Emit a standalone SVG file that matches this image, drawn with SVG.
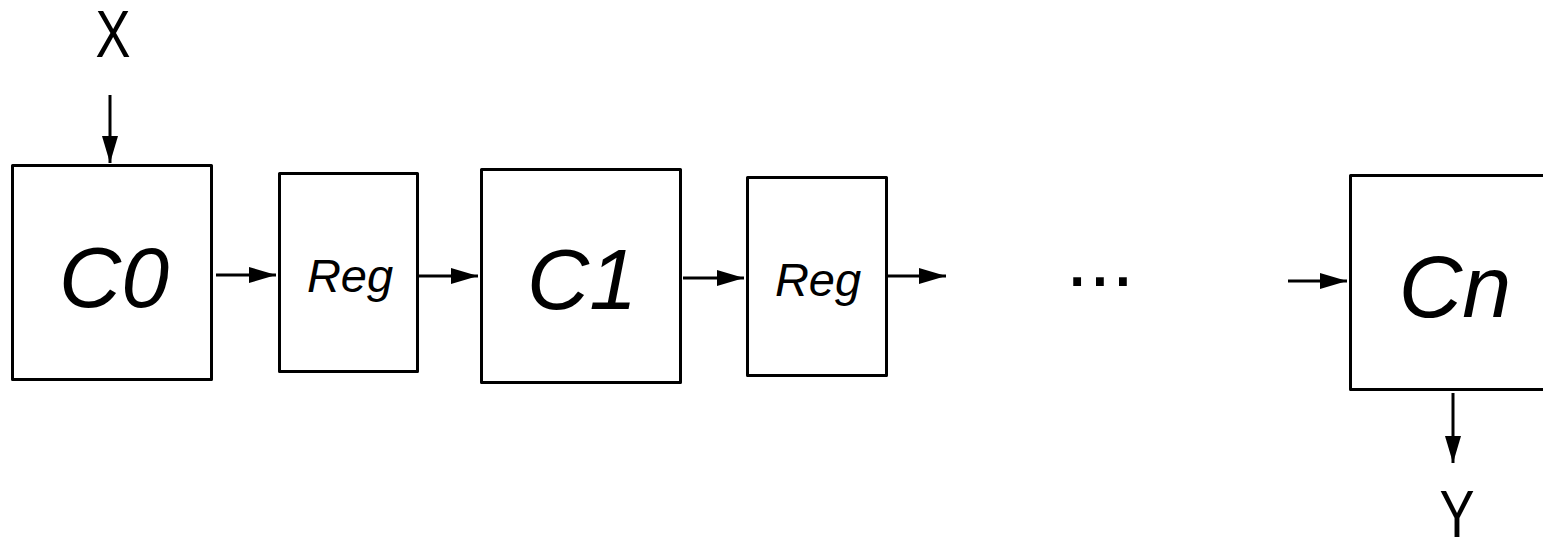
<svg xmlns="http://www.w3.org/2000/svg" width="1543" height="539" viewBox="0 0 1543 539">
<style>
.box{fill:#fff;stroke:#000;stroke-width:3;stroke-linejoin:round}
.lbl{font-family:"Liberation Sans",Arial,sans-serif;font-style:italic;fill:#000;text-anchor:middle}
.io{font-family:"Liberation Sans",Arial,sans-serif;fill:#000;text-anchor:middle}
.con{stroke:#000;stroke-width:3;fill:none;marker-end:url(#ah)}
</style>
<defs>
<marker id="ah" markerUnits="userSpaceOnUse" markerWidth="28" markerHeight="18" refX="27" refY="8" orient="auto">
<polygon points="0,0 27,8 0,16" fill="#000"/>
</marker>
</defs>
<rect width="1543" height="539" fill="#fff"/>
<g id="X"><text class="io" x="113" y="57" font-size="66" textLength="35" lengthAdjust="spacingAndGlyphs">X</text></g>
<g id="C0"><rect class="box" x="12.5" y="165.5" width="199" height="214"/><text class="lbl" x="114" y="307" font-size="86">C0</text></g>
<g id="Reg1"><rect class="box" x="279.5" y="173.5" width="138" height="198"/><text class="lbl" x="350" y="292" font-size="47">Reg</text></g>
<g id="C1"><rect class="box" x="481.5" y="169.5" width="199" height="213"/><text class="lbl" x="582" y="309" font-size="86">C1</text></g>
<g id="Reg2"><rect class="box" x="747.5" y="177.5" width="139" height="198"/><text class="lbl" x="818" y="296" font-size="47">Reg</text></g>
<g id="dots"><text class="io" x="1100" y="286" font-size="82">...</text></g>
<g id="Cn"><rect class="box" x="1350.5" y="175.5" width="230" height="214"/><text class="lbl" x="1455" y="317" font-size="88">Cn</text></g>
<g id="Y"><text class="io" x="1457" y="537" font-size="66" textLength="35" lengthAdjust="spacingAndGlyphs">Y</text></g>
<g id="connectors">
<line class="con" x1="110" y1="95" x2="110" y2="163"/>
<line class="con" x1="216" y1="275" x2="276" y2="275"/>
<line class="con" x1="419" y1="276" x2="478" y2="276"/>
<line class="con" x1="683" y1="278" x2="744" y2="278"/>
<line class="con" x1="888" y1="276" x2="946" y2="276"/>
<line class="con" x1="1288" y1="281" x2="1347" y2="281"/>
<line class="con" x1="1453" y1="393" x2="1453" y2="463"/>
</g>
</svg>
